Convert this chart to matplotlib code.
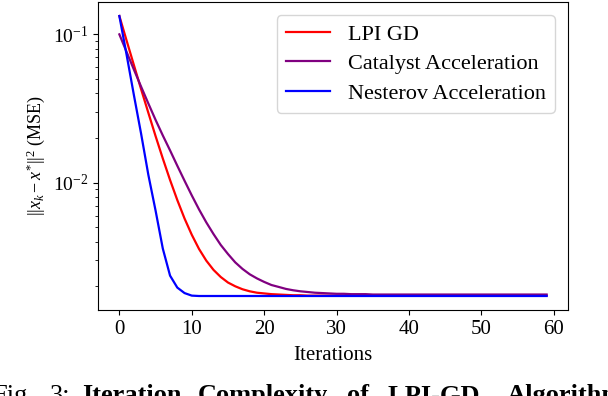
import numpy as np
import matplotlib
matplotlib.use('Agg')
import matplotlib.pyplot as plt

plt.rcParams['font.family'] = ['Liberation Serif', 'DejaVu Serif']
plt.rcParams['mathtext.fontset'] = 'custom'
plt.rcParams['mathtext.rm'] = 'Liberation Serif'
plt.rcParams['mathtext.it'] = 'Liberation Serif:italic'
plt.rcParams['mathtext.bf'] = 'Liberation Serif:bold'

iterations = np.arange(60)

lpi_gd = [0.133, 0.0908, 0.0622, 0.0427, 0.0296, 0.0206, 0.01454, 0.01042,
          0.00763, 0.00573, 0.00445, 0.00357, 0.00298, 0.00258, 0.00231,
          0.00212, 0.00200, 0.00191, 0.00185, 0.00181, 0.00179, 0.00177,
          0.00176, 0.00175, 0.00174, 0.00174] + [0.00173] * 34

catalyst = [0.100, 0.0761, 0.0580, 0.0444, 0.0342, 0.0265, 0.0208, 0.0165,
            0.0130, 0.0103, 0.0082, 0.0066, 0.0054, 0.0045, 0.0038,
            0.0033, 0.00290, 0.00262, 0.00241, 0.00226, 0.00214, 0.00204,
            0.00198, 0.00192, 0.00188, 0.00185, 0.00183, 0.00181, 0.00180,
            0.00179, 0.00178, 0.00178, 0.00177, 0.00177,
            0.00177] + [0.00176] * 25

nesterov = [0.133, 0.0728, 0.0391, 0.0214, 0.0113, 0.00648, 0.00359,
            0.00236, 0.00196, 0.00180, 0.00173] + [0.00172] * 49

fig = plt.figure(figsize=(6.08, 3.96), dpi=100)
ax = fig.add_axes([98 / 608, 1 - 310 / 396, 470 / 608, 308 / 396])

ax.plot(iterations, lpi_gd, color='red', lw=1.6, label='LPI GD')
ax.plot(iterations, catalyst, color='purple', lw=1.6, label='Catalyst Acceleration')
ax.plot(iterations, nesterov, color='blue', lw=1.6, label='Nesterov Acceleration')

ax.set_yscale('log')
ax.set_xticks([0, 10, 20, 30, 40, 50, 60])
ax.tick_params(axis='y', labelsize=14)
ax.tick_params(axis='x', labelsize=15)
ax.set_xlabel('Iterations', fontsize=15, labelpad=5)
ax.set_ylabel(r'$||x_k - x^{*}||^{2}$ (MSE)', fontsize=13)
ax.legend(loc='upper right', fontsize=16, handlelength=2.0,
          borderaxespad=0.6, labelspacing=0.4)

# caption of the paper figure, cut by the bottom edge
cap_y = -6 / 396
fig.text(-8 / 608, cap_y, 'Fig.', fontsize=19, va='baseline')
fig.text(50 / 608, cap_y, '3:', fontsize=19, va='baseline')
words = [('Iteration', 82), ('Complexity', 198), ('of', 347),
         ('LPI-GD,', 387), ('Algorithm', 507)]
for w, x in words:
    fig.text(x / 608, cap_y, w, fontsize=19, fontweight='bold', va='baseline')

fig.savefig('out.png', dpi=100)
